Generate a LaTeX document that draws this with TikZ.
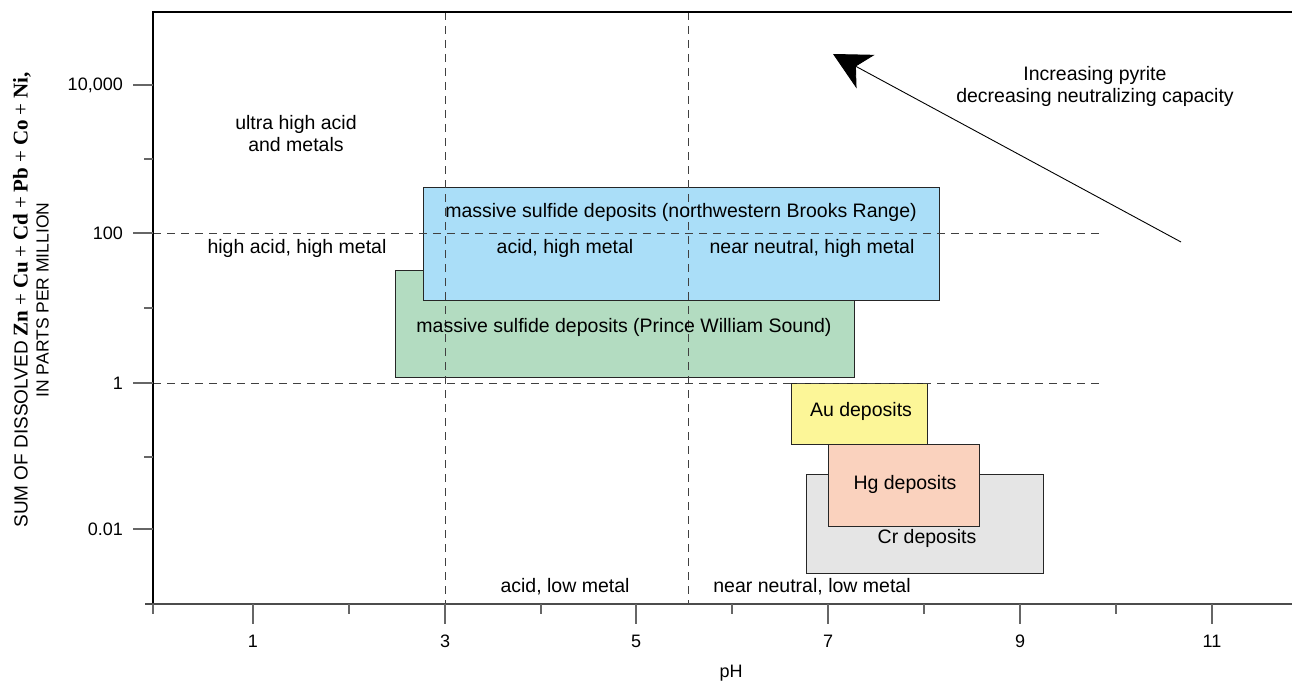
\documentclass[tikz,border=0pt]{standalone}
\usepackage{fontspec}
\setmainfont{Liberation Sans}
\newfontfamily\elserif{Liberation Serif}
\usetikzlibrary{arrows.meta}
\definecolor{boxblue}{RGB}{170,222,248}
\definecolor{boxgreen}{RGB}{179,220,193}
\definecolor{boxyellow}{RGB}{252,246,152}
\definecolor{boxsalmon}{RGB}{250,210,190}
\definecolor{boxgrey}{RGB}{229,229,229}
\newcommand{\elsym}[1]{{\elserif\bfseries\fontsize{21}{21}\selectfont #1}}
\newcommand{\elplus}{{\elserif\fontsize{21}{21}\selectfont +}}
\begin{document}
\begin{tikzpicture}[x=1pt,y=-1pt,
  lbl/.style={font=\fontsize{19.5}{22}\selectfont, inner sep=0pt, align=center},
  ticklbl/.style={font=\fontsize{18}{20}\selectfont, inner sep=0pt},
  region/.style={draw=black!85, line width=0.9pt},
  guide/.style={draw=black!75, line width=0.9pt, dash pattern=on 8pt off 6pt},
  majortick/.style={draw=black!60, line width=1.4pt},
  minortick/.style={draw=black!60, line width=1.4pt}]
\useasboundingbox (0,0) rectangle (1292,682);
% deposit boxes
\draw[region, fill=boxgreen] (395,270) rectangle (854,377);
\draw[region, fill=boxblue] (423,187) rectangle (939,300);
\draw[region, fill=boxgrey] (806,474) rectangle (1043,573);
\draw[region, fill=boxsalmon] (828,444) rectangle (979,526);
\draw[region, fill=boxyellow] (791,383) rectangle (927,444);
% guide lines
\draw[guide] (153,233) -- (1103,233);
\draw[guide] (153,383) -- (1103,383);
\draw[guide] (445,12) -- (445,604);
\draw[guide] (688,12) -- (688,604);
% frame and axis
\draw[black, line width=1.2pt] (153,604) -- (153,12) -- (1292,12);
\draw[black!70, line width=1.3pt] (145,604) -- (1292,604);
% x ticks
\foreach \xx in {253,445,636,828,1020,1212} \draw[majortick] (\xx,604) -- (\xx,624);
\foreach \xx in {153,349,541,732,924,1116} \draw[minortick] (\xx,604) -- (\xx,614);
% y ticks
\foreach \yy in {85,233,383,529} \draw[majortick] (133,\yy) -- (153,\yy);
\foreach \yy in {159,308,457} \draw[minortick] (144,\yy) -- (153,\yy);
% tick labels
\node[ticklbl] (x1) at (253,641) {1};
\node[ticklbl] (x3) at (445,641) {3};
\node[ticklbl] (x5) at (636,641) {5};
\node[ticklbl] (x7) at (828,641) {7};
\node[ticklbl] (x9) at (1020,641) {9};
\node[ticklbl] (x11) at (1212,641) {11};
\node[ticklbl, anchor=east] (y4) at (123,85) {10,000};
\node[ticklbl, anchor=east] (y2) at (123,233) {100};
\node[ticklbl, anchor=east] (y0) at (123,383) {1};
\node[ticklbl, anchor=east] (ym2) at (123,529) {0.01};
% axis titles
\node[ticklbl] (xtitle) at (731,673) {pH};
\node[rotate=90, align=center, inner sep=0pt, font=\fontsize{17.5}{21}\selectfont] (ytitle) at (31,300)
  {{\fontsize{19}{21}\selectfont SUM OF DISSOLVED} \elsym{Zn} \elplus{} \elsym{Cu} \elplus{} \elsym{Cd} \elplus{} \elsym{Pb} \elplus{} \elsym{Co} \elplus{} \elsym{Ni,}\\ IN PARTS PER MILLION};
% region labels
\node[lbl] (ultra) at (296,134) {ultra high acid\\and metals};
\node[lbl] (hahm) at (297,248) {high acid, high metal};
\node[lbl] (brooks) at (681,212) {massive sulfide deposits (northwestern Brooks Range)};
\node[lbl] (ahm) at (565,248) {acid, high metal};
\node[lbl] (nnhm) at (812,248) {near neutral, high metal};
\node[lbl] (pws) at (624,327) {massive sulfide deposits (Prince William Sound)};
\node[lbl] (au) at (861,411) {Au deposits};
\node[lbl] (hg) at (905,484) {Hg deposits};
\node[lbl] (cr) at (927,538) {Cr deposits};
\node[lbl] (alm) at (565,587) {acid, low metal};
\node[lbl] (nnlm) at (812,587) {near neutral, low metal};
\node[lbl] (pyrite) at (1095,86) {Increasing pyrite\\decreasing neutralizing capacity};
% arrow
\coordinate (arrowtail) at (1181,242);
\coordinate (arrowtip) at (833,54);
\draw[black, line width=0.9pt, -{Stealth[length=37pt,width=38pt,inset=11pt]}] (arrowtail) -- (arrowtip);
\end{tikzpicture}
\end{document}
